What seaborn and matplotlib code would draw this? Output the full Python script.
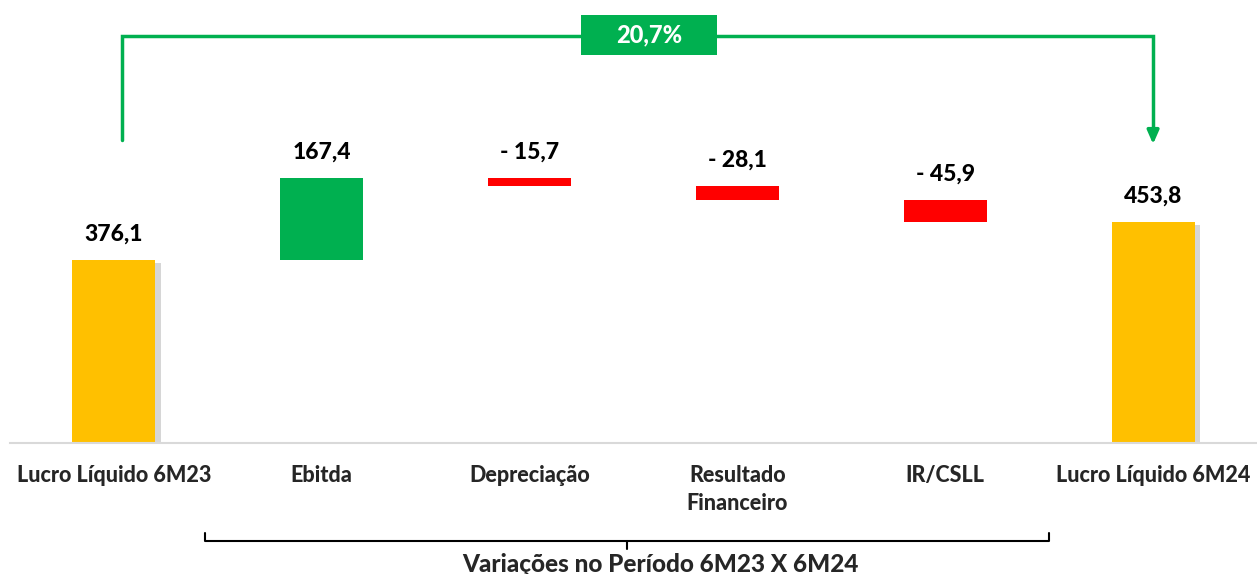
import matplotlib
matplotlib.use("Agg")
import matplotlib.pyplot as plt
import matplotlib.patheffects as pe
from matplotlib.patches import Rectangle
import seaborn as sns
import numpy as np

categorias = ["Lucro Líquido 6M23", "Ebitda", "Depreciação",
              "Resultado\nFinanceiro", "IR/CSLL", "Lucro Líquido 6M24"]
valores = [376.1, 167.4, -15.7, -28.1, -45.9, 453.8]
rotulos = ["376,1", "167,4", "- 15,7", "- 28,1", "- 45,9", "453,8"]
tipos = ["total", "var", "var", "var", "var", "total"]
variacao_txt = "20,7%"
subtitulo = "Variações no Período 6M23 X 6M24"

AMARELO = "#FFC000"
VERDE = "#00B050"
VERMELHO = "#FF0000"

# bases e alturas do waterfall
bases, alturas, cores = [], [], []
acum = 0.0
for v, t in zip(valores, tipos):
    if t == "total":
        bases.append(0.0)
        alturas.append(v)
        acum = v
        cores.append(AMARELO)
    else:
        novo = acum + v
        bases.append(min(acum, novo))
        alturas.append(abs(v))
        cores.append(VERDE if v > 0 else VERMELHO)
        acum = novo
topos = [b + h for b, h in zip(bases, alturas)]

sns.set_style("white")
plt.rcParams["font.family"] = ["Lato", "DejaVu Sans"]
PESO = "black"

fig = plt.figure(figsize=(12.57, 5.74), dpi=100)
ax = fig.add_axes([10 / 1257, 131 / 574, 1247 / 1257, 443 / 574])

sns.barplot(x=categorias, y=alturas, hue=categorias, palette=cores,
            legend=False, width=0.40, saturation=1, ax=ax)

for i, p in enumerate(ax.patches):
    p.set_y(bases[i])
    p.set_edgecolor("none")
    if tipos[i] == "total":
        p.set_path_effects([pe.SimplePatchShadow(offset=(4, -2), shadow_rgbFace="#999999", alpha=0.4),
                            pe.Normal()])

for i, (t, r) in enumerate(zip(topos, rotulos)):
    ax.annotate(r, (i, t), xytext=(0, 11), textcoords="offset points",
                ha="center", va="bottom", fontsize=16.5, fontweight=PESO, color="black")

ax.set_xlim(-0.5, 5.5)
ax.set_ylim(0, 910)
ax.set_yticks([])
ax.set_xlabel("")
ax.set_ylabel("")
for s in ["top", "left", "right"]:
    ax.spines[s].set_visible(False)
ax.spines["bottom"].set_color("#D9D9D9")
ax.spines["bottom"].set_linewidth(1.5)
ax.tick_params(axis="x", which="major", length=0, pad=16, labelsize=15.5)
for lbl in ax.get_xticklabels():
    lbl.set_fontweight(PESO)
    lbl.set_linespacing(1.4)
ax.set_xticks(np.arange(-0.5, 6.0, 1.0), minor=True)
ax.tick_params(axis="x", which="minor", length=8, width=1.5, color="#D9D9D9")

# conector verde com a variação
yl = 623
ys = 836
ax.plot([0.04, 0.04, 5.0, 5.0], [yl, ys, ys, 630], color=VERDE, lw=2.5,
        solid_joinstyle="miter", clip_on=False)
ax.annotate("", xy=(5.0, 614), xytext=(5.0, 640),
            arrowprops=dict(arrowstyle="-|>,head_width=0.35,head_length=0.8",
                            color=VERDE, lw=2.5, shrinkA=0, shrinkB=0))
cx, cy, bw, bh = 2.575, 838, 0.654, 82
ax.add_patch(Rectangle((cx - bw / 2, cy - bh / 2), bw, bh, fc=VERDE, ec="none",
                       clip_on=False, zorder=5))
ax.text(cx, cy, variacao_txt, ha="center", va="center", fontsize=17,
        fontweight=PESO, color="white", zorder=6, clip_on=False)

# chave inferior
tr = ax.get_xaxis_transform()
ax.plot([0.44, 0.44, 4.5, 4.5], [-0.203, -0.221, -0.221, -0.203], color="black",
        lw=1.5, transform=tr, clip_on=False)
ax.plot([2.47, 2.47], [-0.221, -0.240], color="black", lw=1.5, transform=tr, clip_on=False)
ax.text(2.63, -0.275, subtitulo, ha="center", va="center", fontsize=17.5,
        fontweight=PESO, transform=tr)

fig.savefig("out.png", dpi=100)
